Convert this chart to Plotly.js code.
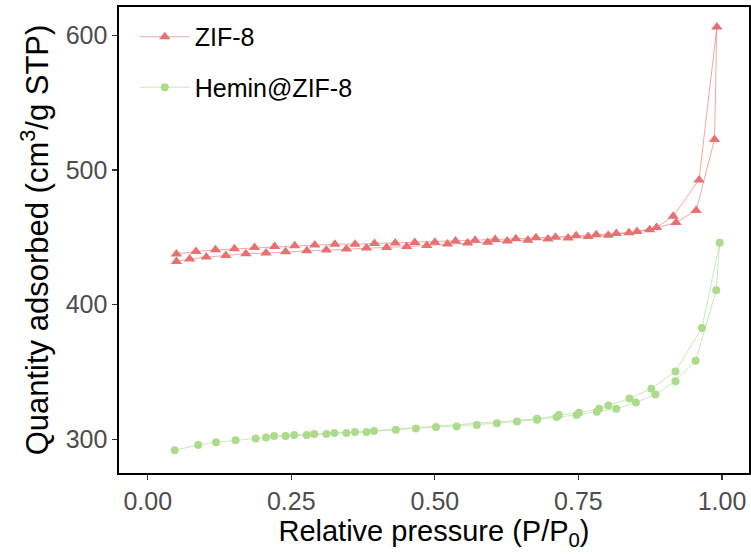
<!DOCTYPE html>
<html>
<head>
<meta charset="utf-8">
<script src="https://cdn.plot.ly/plotly-3.0.1.min.js"></script>
<style>html,body{margin:0;padding:0;background:#fff;}#chart{width:751px;height:554px;}</style>
</head>
<body>
<div id="chart"></div>
<script>
// ZIF-8 isotherm: adsorption branch then desorption branch (one path)
const zif8P = [0.050,0.073,0.102,0.136,0.171,0.206,0.240,0.277,0.311,0.346,0.381,0.416,0.451,0.486,
  0.522,0.557,0.592,0.626,0.662,0.697,0.732,0.767,0.802,0.838,0.874,0.920,0.955,0.987,0.991,
  0.960,0.915,0.886,0.852,0.816,0.781,0.746,0.710,0.676,0.641,0.605,0.570,0.536,0.500,0.465,
  0.431,0.395,0.361,0.326,0.291,0.256,0.221,0.186,0.151,0.118,0.084,0.050];
const zif8Q = [432.1,433.9,435.3,436.5,437.8,438.3,439.3,440.0,440.5,441.3,442.0,442.4,443.2,443.9,
  445.0,445.7,446.4,447.2,447.9,448.7,449.4,450.6,451.6,453.3,455.6,461.0,469.9,522.7,606.1,
  492.6,465.6,457.3,454.3,452.8,451.9,451.1,450.1,449.6,448.9,448.4,447.9,447.2,446.4,446.1,
  445.7,445.4,444.9,444.9,444.2,443.7,443.2,442.4,441.5,440.7,439.5,437.6];

// Hemin@ZIF-8 isotherm: adsorption branch then desorption branch (one path)
const heminP = [0.047,0.088,0.119,0.153,0.188,0.206,0.240,0.277,0.311,0.346,0.381,0.432,0.467,0.502,
  0.538,0.573,0.608,0.643,0.678,0.712,0.747,0.782,0.816,0.850,0.884,0.919,0.954,0.990,0.996,
  0.965,0.919,0.877,0.839,0.802,0.786,0.751,0.716,0.678,0.394,0.361,0.325,0.290,0.255,0.220];
const heminQ = [291.9,295.8,297.8,299.3,300.7,301.3,302.4,303.2,303.9,304.7,305.4,307.2,308.1,309.1,
  309.6,310.6,311.9,313.3,314.6,316.5,318.0,320.5,322.7,327.4,333.3,343.2,358.3,410.6,445.9,
  382.7,350.4,337.6,330.4,325.2,322.7,319.8,318.0,315.2,306.1,305.4,304.7,303.9,303.2,302.4];

const seriesNames = ["ZIF-8", "Hemin@ZIF-8"];
const xTickVals = [0, 0.25, 0.5, 0.75, 1.0];
const xTickText = ["0.00", "0.25", "0.50", "0.75", "1.00"];
const yTickVals = [300, 400, 500, 600];

const traces = [
  {
    x: zif8P, y: zif8Q, name: seriesNames[0], legendgroup: "a",
    type: "scatter", mode: "lines+markers",
    line: {color: "rgba(232,110,110,0.6)", width: 1},
    marker: {symbol: "triangle-up", size: 10, color: "#E87070"}
  },
  {
    x: heminP, y: heminQ, name: seriesNames[1], legendgroup: "b",
    type: "scatter", mode: "lines+markers",
    line: {color: "rgba(168,216,140,0.6)", width: 1},
    marker: {symbol: "circle", size: 8, color: "#ADDB8C"}
  }
];

const axisCommon = {
  showline: true, mirror: true, linecolor: "#000", linewidth: 1.6,
  ticks: "outside", ticklen: 5, tickwidth: 1.2, tickcolor: "#333",
  showgrid: false, zeroline: false,
  tickfont: {family: "Liberation Sans, Arial, sans-serif", size: 25, color: "#4d4d4d"}
};

const layout = {
  width: 751, height: 554,
  margin: {l: 119, r: 2, t: 7, b: 81},
  paper_bgcolor: "#fff", plot_bgcolor: "#fff",
  font: {family: "Liberation Sans, Arial, sans-serif"},
  xaxis: Object.assign({}, axisCommon, {
    range: [-0.05, 1.047], tickvals: xTickVals, ticktext: xTickText,
    title: {text: "Relative pressure (P/P<sub>0</sub>)", font: {size: 29, color: "#000"}, standoff: 4}
  }),
  yaxis: Object.assign({}, axisCommon, {
    range: [275, 621], tickvals: yTickVals,
    title: {text: "Quantity adsorbed (cm<sup>3</sup>/g STP)", font: {size: 31, color: "#000"}, standoff: 8}
  }),
  legend: {
    x: 0.025, y: 0.985, xanchor: "left", yanchor: "top",
    bgcolor: "rgba(0,0,0,0)", font: {size: 25, color: "#000"},
    traceorder: "grouped", tracegroupgap: 15, itemwidth: 50
  },
  showlegend: true
};

Plotly.newPlot("chart", traces, layout, {displayModeBar: false, staticPlot: true});
</script>
</body>
</html>
